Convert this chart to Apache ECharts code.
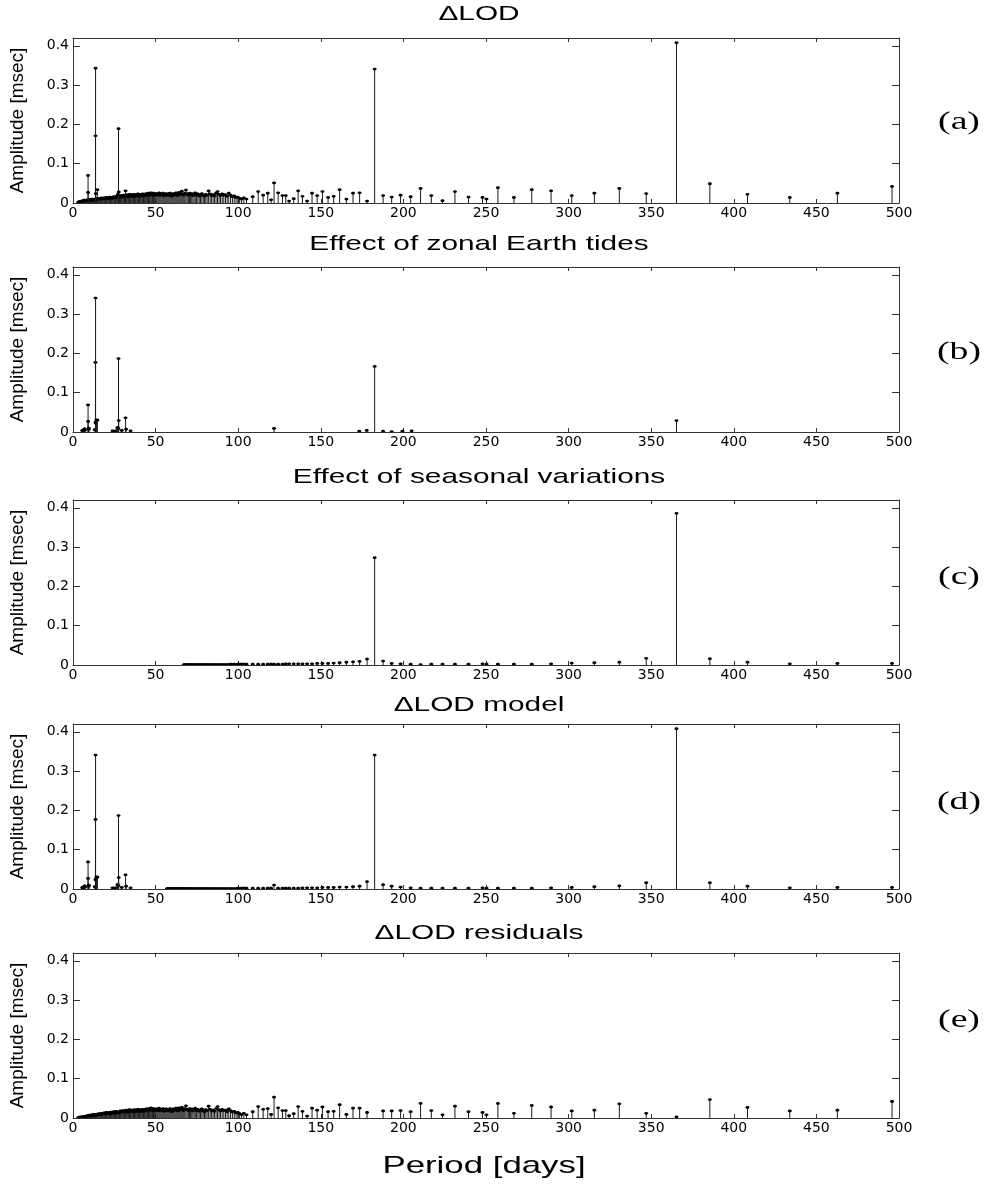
<!DOCTYPE html>
<html>
<head>
<meta charset="utf-8">
<title>ΔLOD amplitude spectra</title>
<script src="https://cdn.jsdelivr.net/npm/echarts@6/dist/echarts.min.js"></script>
<style>
  html, body { margin: 0; padding: 0; background: #fff; }
  #chart { width: 997px; height: 1188px; }
</style>
</head>
<body>
<div id="chart"></div>
<script>
// ---- axis ticks -------------------------------------------------------
const periodTicks = [0, 50, 100, 150, 200, 250, 300, 350, 400, 450, 500];
const ampTicks = [0, 0.1, 0.2, 0.3, 0.4];

// ---- panel text -------------------------------------------------------
const panelTitles = ['ΔLOD', 'Effect of zonal Earth tides', 'Effect of seasonal variations', 'ΔLOD model', 'ΔLOD residuals'];
const panelLetters = ['(a)', '(b)', '(c)', '(d)', '(e)'];

// ---- period grid (days) shared by the ΔLOD and residual spectra ------------
const gridPeriods = [
  3.2, 3.6, 4.0, 4.4, 4.8, 5.2, 5.6, 6.0, 6.4, 6.8, 7.2, 7.6, 8.0, 8.4, 8.8, 9.2, 9.6, 10.0, 10.4, 10.8,
  11.2, 11.6, 12.0, 12.4, 12.8, 13.2, 13.6, 14.0, 14.4, 14.8,
  15.2, 15.7, 16.2, 16.7, 17.2, 17.7, 18.2, 18.7, 19.2, 19.7, 20.2, 20.7, 21.2, 21.7, 22.2, 22.7, 23.2, 23.7, 24.2, 24.7,
  25.2, 25.7, 26.2, 26.7, 27.2, 27.7, 28.2, 28.7, 29.2, 29.7, 30.2, 30.7, 31.2, 31.7, 32.2, 32.7, 33.2, 33.7, 34.2, 34.7,
  35.2, 35.7, 36.2, 36.7, 37.2, 37.7, 38.2, 38.7, 39.2, 39.7, 40.2, 40.7, 41.2, 41.7, 42.2, 42.7, 43.2, 43.7, 44.2, 44.7,
  45.2, 45.7, 46.2, 46.7, 47.2, 47.7, 48.2, 48.7, 49.2, 49.7,
  50.3, 50.9, 51.5, 52.1, 52.7, 53.3, 53.9, 54.5, 55.1, 55.7, 56.3, 56.9, 57.5, 58.1, 58.7, 59.3, 59.9, 60.5, 61.1, 61.7,
  62.3, 62.9, 63.5, 64.1, 64.7, 65.3, 65.9, 66.5, 67.1, 67.7,
  68.4, 69.1, 69.8, 70.5, 71.2, 71.9, 72.6, 73.3, 74.0, 74.8, 75.6, 76.4, 77.2, 78.0, 78.8, 79.6, 80.4, 81.2, 82.1, 83.0,
  83.9, 84.8, 85.7, 86.6, 87.5, 88.4, 89.3, 90.3, 91.3, 92.3, 93.3, 94.3, 95.4, 96.5, 97.6, 98.7, 99.8, 100.9, 102.1, 103.4,
  105.0, 108.8, 112.1, 115.1, 117.9, 119.9, 121.7, 124.2, 126.8, 128.8, 130.8, 133.6, 136.3, 138.9, 141.7, 144.7, 147.8, 151.0, 154.4, 157.8,
  161.4, 165.5, 169.5, 173.5, 178.0, 182.6, 187.7, 192.9, 198.3, 204.4, 210.4, 216.9, 223.7, 231.2, 239.4, 247.9, 250.3, 257.2, 266.9, 277.7,
  289.4, 301.9, 315.6, 330.7, 347.0, 365.3, 385.5, 408.3, 433.9, 462.7, 495.8
];

// (a) observed ΔLOD amplitude on the grid [msec]
const lodAmp = [
  0.002, 0.003, 0.003, 0.004, 0.003, 0.005, 0.004, 0.006, 0.005, 0.007, 0.006, 0.005, 0.007, 0.006, 0.008, 0.007, 0.008, 0.006, 0.009, 0.007,
  0.008, 0.010, 0.007, 0.009, 0.008, 0.010, 0.009, 0.011, 0.008, 0.010,
  0.010, 0.012, 0.009, 0.011, 0.013, 0.010, 0.012, 0.013, 0.011, 0.012, 0.014, 0.012, 0.013, 0.011, 0.015, 0.012, 0.014, 0.012, 0.013, 0.016,
  0.013, 0.015, 0.017, 0.014, 0.022, 0.016, 0.017, 0.019, 0.015, 0.018, 0.020, 0.016, 0.019, 0.017, 0.021, 0.018, 0.016, 0.020, 0.022, 0.017,
  0.019, 0.021, 0.018, 0.016, 0.022, 0.019, 0.017, 0.021, 0.023, 0.018, 0.020, 0.022, 0.017, 0.019, 0.023, 0.020, 0.018, 0.022, 0.024, 0.019,
  0.021, 0.025, 0.022, 0.020, 0.026, 0.023, 0.021, 0.025, 0.019, 0.023,
  0.024, 0.020, 0.022, 0.026, 0.019, 0.023, 0.021, 0.025, 0.018, 0.022, 0.024, 0.020, 0.023, 0.019, 0.025, 0.021, 0.017, 0.024, 0.022, 0.020,
  0.026, 0.023, 0.019, 0.027, 0.021, 0.024, 0.030, 0.022, 0.020, 0.025,
  0.033, 0.023, 0.020, 0.025, 0.021, 0.024, 0.019, 0.022, 0.026, 0.020, 0.023, 0.018, 0.021, 0.024, 0.019, 0.017, 0.022, 0.020, 0.031, 0.023,
  0.019, 0.021, 0.018, 0.025, 0.029, 0.022, 0.019, 0.023, 0.020, 0.021, 0.017, 0.025, 0.020, 0.016, 0.018, 0.014, 0.015, 0.012, 0.010, 0.013,
  0.010, 0.016, 0.029, 0.020, 0.025, 0.008, 0.051, 0.026, 0.019, 0.019, 0.005, 0.011, 0.031, 0.017, 0.005, 0.025, 0.019, 0.029, 0.014, 0.017,
  0.034, 0.010, 0.025, 0.026, 0.005, 0.341, 0.019, 0.015, 0.020, 0.016, 0.037, 0.019, 0.006, 0.029, 0.015, 0.014, 0.010, 0.039, 0.014, 0.034,
  0.031, 0.019, 0.025, 0.037, 0.024, 0.408, 0.049, 0.022, 0.014, 0.025, 0.042
];

// (a) short-period tidal lines seen in the observed ΔLOD [days], [msec]
const lodTidePeriods = [9.12, 9.13, 13.61, 13.66, 13.78, 14.77, 27.55, 27.67, 31.81];
const lodTideAmp = [0.070, 0.027, 0.171, 0.343, 0.024, 0.034, 0.189, 0.028, 0.031];

// (e) residual amplitude on the grid [msec]
const residAmp = [
  0.001, 0.001, 0.002, 0.001, 0.002, 0.003, 0.002, 0.003, 0.004, 0.003, 0.004, 0.005, 0.004, 0.005, 0.006, 0.004, 0.006, 0.007, 0.005, 0.006,
  0.008, 0.006, 0.007, 0.009, 0.007, 0.008, 0.006, 0.009, 0.008, 0.010,
  0.009, 0.011, 0.008, 0.010, 0.012, 0.009, 0.011, 0.013, 0.010, 0.012, 0.014, 0.011, 0.013, 0.010, 0.014, 0.012, 0.015, 0.011, 0.013, 0.016,
  0.012, 0.014, 0.017, 0.013, 0.015, 0.012, 0.016, 0.018, 0.014, 0.017, 0.019, 0.015, 0.018, 0.016, 0.020, 0.017, 0.014, 0.019, 0.021, 0.016,
  0.018, 0.020, 0.017, 0.015, 0.021, 0.018, 0.016, 0.020, 0.022, 0.017, 0.019, 0.021, 0.016, 0.018, 0.022, 0.019, 0.017, 0.021, 0.023, 0.018,
  0.020, 0.024, 0.021, 0.019, 0.026, 0.022, 0.020, 0.024, 0.018, 0.022,
  0.023, 0.019, 0.021, 0.025, 0.018, 0.022, 0.020, 0.024, 0.017, 0.021, 0.023, 0.019, 0.022, 0.018, 0.024, 0.020, 0.016, 0.023, 0.021, 0.019,
  0.025, 0.022, 0.018, 0.026, 0.020, 0.023, 0.027, 0.021, 0.019, 0.024,
  0.031, 0.022, 0.019, 0.024, 0.020, 0.023, 0.018, 0.021, 0.025, 0.019, 0.022, 0.017, 0.020, 0.023, 0.018, 0.016, 0.021, 0.019, 0.030, 0.022,
  0.018, 0.020, 0.017, 0.024, 0.029, 0.021, 0.018, 0.022, 0.019, 0.020, 0.016, 0.023, 0.019, 0.015, 0.017, 0.013, 0.014, 0.011, 0.009, 0.012,
  0.008, 0.016, 0.029, 0.022, 0.024, 0.009, 0.053, 0.026, 0.019, 0.019, 0.006, 0.011, 0.029, 0.017, 0.005, 0.025, 0.020, 0.028, 0.016, 0.017,
  0.034, 0.009, 0.025, 0.025, 0.014, null, 0.018, 0.018, 0.019, 0.016, 0.037, 0.019, 0.008, 0.030, 0.016, 0.014, 0.008, 0.037, 0.012, 0.032,
  0.028, 0.018, 0.020, 0.036, 0.012, 0.003, 0.047, 0.027, 0.018, 0.020, 0.042
];

// (b) zonal Earth tide lines [days], [msec]
const tideShortPeriods = [5.64, 5.80, 6.86, 7.10, 7.38, 9.12, 9.13, 9.56, 9.60, 13.17, 13.61, 13.63, 13.66, 13.78, 14.19, 14.77,
  23.94, 25.62, 26.88, 27.09, 27.44, 27.55, 27.67, 29.53, 31.81, 32.11, 34.85];
const tideShortAmp = [0.004, 0.003, 0.007, 0.008, 0.005, 0.069, 0.027, 0.010, 0.007, 0.006, 0.177, 0.025, 0.341, 0.022, 0.031, 0.030,
  0.003, 0.003, 0.010, 0.012, 0.008, 0.187, 0.029, 0.004, 0.036, 0.007, 0.003];
const tideLongPeriods = [121.7, 173.3, 177.8, 182.6, 187.7, 192.9, 199.4, 205.0, 365.3];
const tideLongAmp = [0.009, 0.002, 0.004, 0.167, 0.002, 0.001, 0.002, 0.003, 0.029];

// (c), (d) long-period part of the grid, from 56.9 days on
const longPeriods = gridPeriods.filter(p => p >= 56.9);

// (c) seasonal variation amplitude [msec]
const seasonAmp = [
  null, null, null, null, null, null, null, null, null, null, null, null, null, null, null, null, null,
  0.001, 0.001, 0.001, 0.001, 0.001, 0.001, 0.001, 0.001, 0.001, 0.001, 0.001, 0.001, 0.001, 0.001, 0.001, 0.001, 0.001, 0.001, 0.001, 0.001,
  0.001, 0.001, 0.001, 0.001, 0.001, 0.001, 0.001, 0.001, 0.001, 0.001, 0.001, 0.001, 0.001, 0.001, 0.002, 0.001, 0.002, 0.001, 0.002, 0.002,
  0.002, 0.002,
  0.002, 0.002, 0.002, 0.002, 0.002, 0.002, 0.002, 0.002, 0.002, 0.003, 0.003, 0.003, 0.003, 0.003, 0.003, 0.003, 0.004, 0.004, 0.004, 0.005,
  0.006, 0.007, 0.008, 0.009, 0.015, 0.273, 0.010, 0.004, 0.003, 0.002, 0.001, 0.002, 0.002, 0.002, 0.002, 0.003, 0.002, 0.002, 0.002, 0.002,
  0.003, 0.005, 0.006, 0.007, 0.017, 0.386, 0.016, 0.007, 0.003, 0.004, 0.004
];

// (d) modelled ΔLOD amplitude on the long-period grid [msec]
const modelAmp = [
  0.001, 0.001, 0.001, 0.001, 0.001, 0.001, 0.001, 0.001, 0.001, 0.001, 0.001, 0.001, 0.001, 0.001, 0.001, 0.001, 0.001,
  0.001, 0.001, 0.001, 0.001, 0.001, 0.001, 0.001, 0.001, 0.001, 0.001, 0.001, 0.001, 0.001, 0.001, 0.001, 0.001, 0.001, 0.001, 0.001, 0.001,
  0.001, 0.001, 0.001, 0.001, 0.001, 0.001, 0.001, 0.001, 0.001, 0.001, 0.001, 0.001, 0.001, 0.001, 0.001, 0.001, 0.001, 0.001, 0.002, 0.001,
  0.002, 0.002,
  0.002, 0.002, 0.002, 0.002, 0.002, 0.002, 0.010, 0.002, 0.002, 0.002, 0.002, 0.002, 0.002, 0.003, 0.003, 0.003, 0.003, 0.004, 0.004, 0.004,
  0.005, 0.005, 0.006, 0.007, 0.019, 0.341, 0.011, 0.007, 0.005, 0.003, 0.002, 0.002, 0.002, 0.002, 0.002, 0.003, 0.002, 0.002, 0.002, 0.002,
  0.003, 0.004, 0.006, 0.008, 0.016, 0.408, 0.016, 0.007, 0.003, 0.004, 0.004
];

// ---- helpers ------------------------------------------------------------
function pairs(xs, ys) {
  const out = [];
  for (let i = 0; i < xs.length; i++) {
    if (ys[i] !== null && ys[i] !== undefined) out.push([xs[i], ys[i]]);
  }
  return out;
}

// Stem: vertical line from the baseline to the value, small marker on top
function renderStem(params, api) {
  const x = api.value(0), y = api.value(1);
  const top = api.coord([x, y]);
  const base = api.coord([x, 0]);
  return {
    type: 'group',
    children: [
      { type: 'line', shape: { x1: base[0], y1: base[1], x2: top[0], y2: top[1] },
        style: { stroke: '#1a1a1a', lineWidth: 1 } },
      { type: 'ellipse', shape: { cx: top[0], cy: top[1], rx: 2, ry: 1.4 },
        style: { fill: '#000' } }
    ]
  };
}

const panelData = [
  [pairs(gridPeriods, lodAmp), pairs(lodTidePeriods, lodTideAmp)],
  [pairs(tideShortPeriods, tideShortAmp), pairs(tideLongPeriods, tideLongAmp)],
  [pairs(longPeriods, seasonAmp)],
  [pairs(tideShortPeriods, tideShortAmp), pairs(longPeriods, modelAmp)],
  [pairs(gridPeriods, residAmp)]
];

// ---- layout -------------------------------------------------------------
const plotLeft = 72, plotRight = 899, plotH = 165;
const plotTops = [38, 267, 500, 724, 953];
const titleY = [14, 244, 477, 705, 933];
const letterY = [122, 352, 577, 802, 1020];
const frameColor = '#333';
const tickFont = { color: '#000', fontFamily: 'DejaVu Sans', fontSize: 14 };

const grids = [], xAxes = [], yAxes = [], series = [], graphics = [];

plotTops.forEach((top, i) => {
  grids.push({ left: plotLeft, top: top, width: plotRight - plotLeft, height: plotH,
    show: false, containLabel: false });

  const xBase = {
    gridIndex: i, type: 'value', min: periodTicks[0], max: periodTicks[periodTicks.length - 1],
    interval: periodTicks[1] - periodTicks[0],
    axisLine: { show: true, onZero: false, lineStyle: { color: frameColor, width: 1 } },
    axisTick: { show: true, inside: true, length: 4, lineStyle: { color: frameColor } },
    splitLine: { show: false }
  };
  xAxes.push(Object.assign({}, xBase, {
    position: 'bottom',
    axisLabel: Object.assign({ margin: 3, formatter: v => periodTicks.includes(v) ? String(v) : '' }, tickFont)
  }));
  xAxes.push(Object.assign({}, xBase, { position: 'top', axisLabel: { show: false } }));

  const yBase = {
    gridIndex: i, type: 'value', min: 0, max: 0.42, interval: 0.1,
    axisLine: { show: true, onZero: false, lineStyle: { color: frameColor, width: 1 } },
    axisTick: { show: true, inside: true, length: 7, lineStyle: { color: frameColor },
      interval: (idx, v) => ampTicks.some(a => Math.abs(a - v) < 1e-9) },
    splitLine: { show: false }
  };
  yAxes.push(Object.assign({}, yBase, {
    position: 'left',
    name: 'Amplitude [msec]', nameLocation: 'middle', nameRotate: 90, nameGap: 46,
    nameTextStyle: { color: '#000', fontFamily: 'Liberation Sans', fontSize: 19 },
    axisLabel: Object.assign({ margin: 4, formatter: v => {
      const t = ampTicks.find(a => Math.abs(a - v) < 1e-9);
      return t === undefined ? '' : String(t);
    } }, tickFont)
  }));
  yAxes.push(Object.assign({}, yBase, { position: 'right', axisLabel: { show: false }, name: '' }));

  panelData[i].forEach(d => {
    series.push({
      type: 'custom', xAxisIndex: 2 * i, yAxisIndex: 2 * i, clip: true,
      renderItem: renderStem, data: d, silent: true
    });
  });

  graphics.push({
    type: 'text', x: 479, y: titleY[i], scaleX: 1.42,
    style: { text: panelTitles[i], fontFamily: 'Liberation Sans', fontSize: 21, fill: '#000',
      align: 'center', verticalAlign: 'middle' }
  });
  graphics.push({
    type: 'text', x: 959, y: letterY[i], scaleX: 1.45,
    style: { text: panelLetters[i], fontFamily: 'Liberation Serif', fontSize: 26, fill: '#000',
      align: 'center', verticalAlign: 'middle' }
  });
});

graphics.push({
  type: 'text', x: 484, y: 1166, scaleX: 1.45,
  style: { text: 'Period [days]', fontFamily: 'Liberation Sans', fontSize: 24, fill: '#000',
    align: 'center', verticalAlign: 'middle' }
});

const chart = echarts.init(document.getElementById('chart'), null, { renderer: 'canvas' });
chart.setOption({
  animation: false,
  backgroundColor: '#fff',
  grid: grids,
  xAxis: xAxes,
  yAxis: yAxes,
  series: series,
  graphic: graphics
});
</script>
</body>
</html>
